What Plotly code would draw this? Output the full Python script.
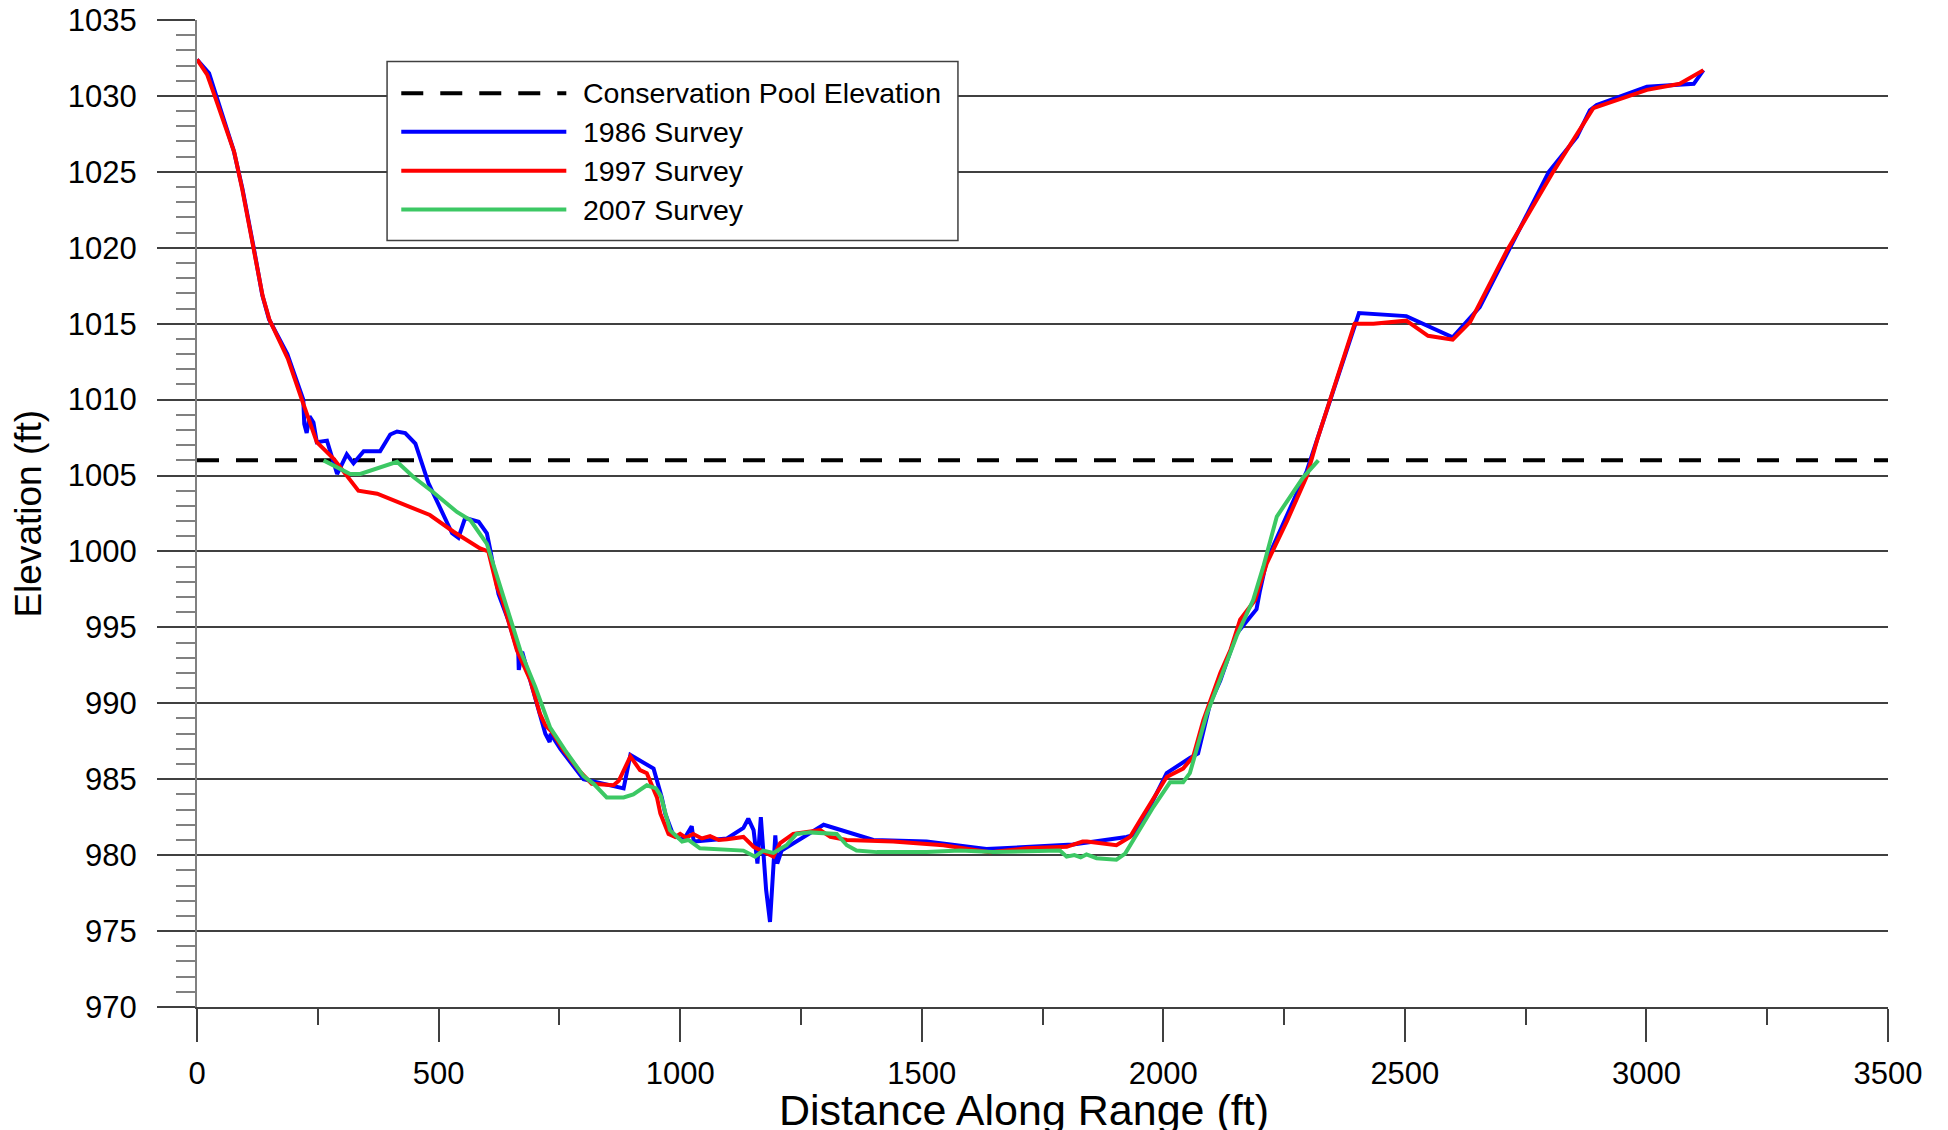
#!/usr/bin/env python3

import plotly.graph_objects as go

# conservation pool elevation (ft)
pool_x = [0, 3500]
pool_y = [1006, 1006]

# 1986 survey
x_1986 = [0, 25, 76, 94, 118, 135, 149, 187, 220, 222, 227, 233, 241, 248, 269, 290, 310, 324,
          345, 379, 400, 414, 431, 452, 479, 528, 541, 555, 583, 600, 607, 624, 644, 665, 666,
          673, 721, 730, 732, 752, 800, 883, 897, 945, 962, 969, 986, 1007, 1024, 1028, 1097,
          1131, 1141, 1152, 1160, 1167, 1178, 1186, 1197, 1201, 1210, 1297, 1400, 1510, 1634,
          1813, 1924, 1935, 1952, 2007, 2055, 2072, 2097, 2118, 2152, 2193, 2200, 2214, 2297,
          2405, 2503, 2599, 2655, 2798, 2856, 2883, 2897, 3001, 3098, 3118]
y_1986 = [1032.4, 1031.5, 1026.4, 1023.9, 1019.9, 1016.9, 1015.3, 1013.0, 1010.0, 1008.4, 1007.8,
          1008.9, 1008.5, 1007.2, 1007.3, 1005.1, 1006.4, 1005.8, 1006.6, 1006.6, 1007.7, 1007.9,
          1007.8, 1007.1, 1004.5, 1001.2, 1000.9, 1002.2, 1001.95, 1001.2, 1000.1, 997.2, 995.5,
          993.3, 992.2, 993.4, 988.0, 987.45, 988.0, 987.0, 985.0, 984.4, 986.6, 985.7, 983.8,
          982.75, 981.3, 981.0, 981.9, 980.9, 981.1, 981.8, 982.4, 981.65, 979.45, 982.5, 977.7,
          975.6, 981.3, 979.45, 980.3, 982.0, 981.0, 980.9, 980.4, 980.7, 981.2, 981.3, 981.9,
          985.4, 986.4, 986.7, 990.0, 991.5, 994.6, 996.2, 997.4, 999.4, 1005.3, 1015.7, 1015.5,
          1014.1, 1016.1, 1025.0, 1027.3, 1029.05, 1029.4, 1030.6, 1030.8, 1031.7]

# 1997 survey
x_1997 = [0, 21, 35, 77, 94, 118, 136, 150, 188, 217, 248, 283, 310, 334, 373, 482, 531, 552,
          586, 603, 621, 631, 655, 662, 690, 710, 721, 735, 759, 793, 817, 862, 873, 897, 917,
          931, 952, 959, 976, 990, 1000, 1012, 1027, 1045, 1062, 1080, 1097, 1131, 1152, 1193,
          1207, 1234, 1290, 1311, 1345, 1441, 1545, 1641, 1717, 1800, 1833, 1842, 1903, 1931,
          1952, 2007, 2041, 2062, 2083, 2118, 2139, 2159, 2190, 2214, 2256, 2297, 2318, 2396,
          2435, 2503, 2548, 2599, 2635, 2711, 2807, 2890, 3001, 3069, 3118]
y_1997 = [1032.4, 1031.4, 1030.15, 1026.3, 1023.8, 1019.85, 1016.8, 1015.25, 1012.7, 1010.0,
          1007.2, 1006.1, 1005.0, 1004.0, 1003.8, 1002.4, 1001.3, 1000.9, 1000.2, 1000.0, 997.65,
          996.9, 994.1, 993.5, 991.5, 989.3, 988.55, 988.1, 986.9, 985.5, 984.7, 984.6, 984.9,
          986.5, 985.6, 985.4, 983.8, 982.75, 981.4, 981.2, 981.4, 981.15, 981.4, 981.1, 981.25,
          981.0, 981.05, 981.2, 980.55, 979.9, 980.8, 981.4, 981.65, 981.2, 981.0, 980.9, 980.65,
          980.2, 980.45, 980.55, 980.9, 980.9, 980.65, 981.2, 982.3, 985.15, 985.7, 986.5, 988.9,
          992.0, 993.5, 995.5, 996.8, 999.2, 1002.0, 1004.95, 1007.3, 1015.0, 1015.0, 1015.2,
          1014.2, 1013.95, 1015.1, 1019.8, 1025.0, 1029.2, 1030.4, 1030.8, 1031.7]

# 2007 survey
x_2007 = [262, 317, 338, 379, 414, 448, 489, 538, 566, 600, 641, 669, 700, 731, 762, 800, 821,
          848, 883, 903, 931, 950, 960, 979, 1004, 1017, 1041, 1131, 1155, 1172, 1193, 1220,
          1241, 1269, 1324, 1345, 1365, 1407, 1510, 1579, 1648, 1786, 1800, 1816, 1829, 1841,
          1862, 1903, 1921, 1945, 1980, 2014, 2041, 2055, 2090, 2118, 2152, 2186, 2207, 2235,
          2263, 2290, 2321]
y_2007 = [1006.0, 1005.1, 1005.1, 1005.5, 1005.9, 1004.9, 1003.9, 1002.6, 1002.05, 1000.5, 996.3,
          993.5, 991.1, 988.4, 986.9, 985.2, 984.7, 983.8, 983.8, 984.0, 984.6, 984.4, 983.9,
          981.65, 980.9, 981.0, 980.45, 980.3, 979.9, 980.3, 980.15, 980.65, 981.4, 981.5, 981.4,
          980.65, 980.3, 980.2, 980.2, 980.3, 980.2, 980.3, 979.9, 980.0, 979.85, 980.05, 979.8,
          979.7, 980.1, 981.4, 983.2, 984.8, 984.8, 985.4, 989.3, 991.6, 994.45, 996.8, 999.0,
          1002.3, 1003.6, 1004.9, 1006.0]

series = [
    ('Conservation Pool Elevation', pool_x, pool_y, 'black', '22px,17px'),
    ('1986 Survey', x_1986, y_1986, '#0000ff', 'solid'),
    ('1997 Survey', x_1997, y_1997, '#ff0000', 'solid'),
    ('2007 Survey', x_2007, y_2007, '#3cc864', 'solid'),
]

font = 'Liberation Sans, Arial, sans-serif'

fig = go.Figure()
for name, xs, ys, color, dash in series:
    fig.add_trace(go.Scatter(x=xs, y=ys, name=name, mode='lines',
                             line=dict(color=color, width=4, dash=dash),
                             showlegend=False))

# hand-built legend box (plotly's legend samples are too short)
leg_y = [0.9258, 0.8867, 0.8472, 0.8080]
fig.add_shape(type='rect', xref='paper', yref='paper', x0=0.1124, x1=0.4500, y0=0.7766, y1=0.958,
              line=dict(color='#404040', width=1.5), fillcolor='white', layer='above')
for (name, xs, ys, color, dash), ly in zip(series, leg_y):
    fig.add_shape(type='line', xref='paper', yref='paper', x0=0.1208, x1=0.2184, y0=ly, y1=ly,
                  line=dict(color=color, width=4, dash=dash), layer='above')
    fig.add_annotation(text=name, xref='paper', yref='paper', x=0.2270, y=ly,
                       xanchor='left', yanchor='middle', showarrow=False,
                       font=dict(size=28.5, color='black', family=font))

# axis titles
fig.add_annotation(text='Distance Along Range (ft)', xref='paper', yref='paper', x=0.489, y=-0.1045,
                   xanchor='center', yanchor='middle', showarrow=False,
                   font=dict(size=43, color='black', family=font))
fig.add_annotation(text='Elevation (ft)', xref='paper', yref='paper', x=-0.0999, y=0.5,
                   xanchor='center', yanchor='middle', textangle=-90, showarrow=False,
                   font=dict(size=37, color='black', family=font))

fig.update_layout(
    width=1948, height=1130, autosize=False,
    margin=dict(l=197, r=60, t=19.5, b=123.3),
    paper_bgcolor='white', plot_bgcolor='white',
    font=dict(family=font, color='black'),
)
fig.update_xaxes(
    range=[0, 3500], dtick=500, tick0=0, showgrid=False, zeroline=False, automargin=False,
    showline=True, linecolor='#404040', linewidth=1.5,
    ticks='outside', ticklen=33, tickwidth=1.5, tickcolor='#404040',
    ticklabelstandoff=5, tickfont=dict(size=31, color='black'),
    minor=dict(ticks='outside', dtick=250, ticklen=16, tickwidth=1.5, tickcolor='#404040', showgrid=False),
)
fig.update_yaxes(
    range=[970, 1035], dtick=5, tick0=970, showgrid=True, gridcolor='#404040', gridwidth=1.5,
    zeroline=False, automargin=False, showline=True, linecolor='#808080', linewidth=2,
    ticks='outside', ticklen=38, tickwidth=1.5, tickcolor='#404040',
    ticklabelstandoff=14, tickfont=dict(size=31, color='black'),
    minor=dict(ticks='outside', dtick=1, ticklen=19, tickwidth=1.5, tickcolor='#808080', showgrid=False),
)

# the page's default body margin would shift the figure; remove it
fig.write_html('out.html', config={'displayModeBar': False},
               post_script="document.body.style.margin='0px';")
